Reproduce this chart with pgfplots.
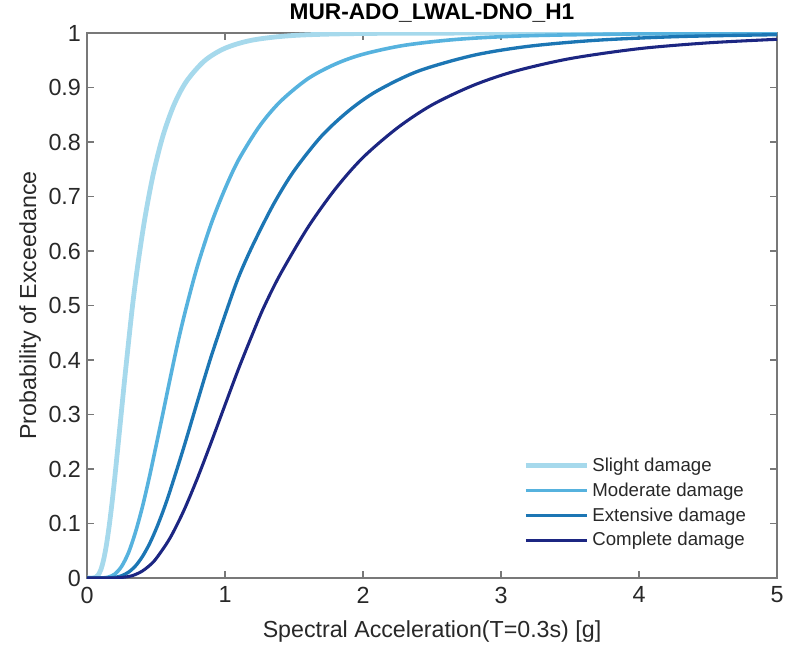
\documentclass[border=0pt]{standalone}
\usepackage{fontspec}
\setmainfont{Liberation Sans}
\usepackage{pgfplots}
\pgfplotsset{compat=1.18}
\definecolor{cSlight}{RGB}{166,217,236}
\definecolor{cModerate}{RGB}{86,178,222}
\definecolor{cExtensive}{RGB}{28,118,180}
\definecolor{cComplete}{RGB}{28,38,130}
\definecolor{axgray}{RGB}{120,120,120}
\definecolor{txtgray}{RGB}{40,40,40}
\begin{document}
\begin{tikzpicture}
\begin{axis}[
  scale only axis,
  width=517.5pt, height=408.75pt,
  xmin=0, xmax=5, ymin=0, ymax=1,
  xtick={0,1,2,3,4,5},
  xticklabels={0,1,2,3,4,5},
  ytick={0,0.1,0.2,0.3,0.4,0.5,0.6,0.7,0.8,0.9,1},
  yticklabels={0,0.1,0.2,0.3,0.4,0.5,0.6,0.7,0.8,0.9,1},
  /pgf/number format/assume math mode=true,
  tick align=inside,
  major tick length=5pt,
  axis line style={axgray, line width=0.9pt},
  every tick/.style={axgray, line width=0.9pt},
  tick label style={font=\fontsize{17.5}{20}\selectfont, text=txtgray},
  xticklabel style={yshift=-3pt},
  yticklabel style={xshift=-1pt},
  xlabel={Spectral Acceleration(T=0.3s) [g]},
  ylabel={Probability of Exceedance},
  title={\textbf{MUR-ADO\_LWAL-DNO\_H1}},
  every axis title shift=0pt,
  label style={font=\fontsize{17.4}{20}\selectfont, text=txtgray},
  xlabel style={at={(axis description cs:0.5,-0.099)}, anchor=center},
  ylabel style={at={(axis description cs:-0.0826,0.5)}, anchor=center, rotate=0},
  title style={at={(axis description cs:0.5,1.036)}, anchor=center, font=\fontsize{17}{20}\selectfont, text=black},
  legend style={at={(0.965,0.045)}, anchor=south east, draw=none, fill=none,
    font=\fontsize{14}{17}\selectfont, text=txtgray, row sep=3pt},
  legend cell align=left,
  legend image code/.code={\draw[#1] (0pt,0pt) -- (46pt,0pt);},
]
\addplot[cSlight, line width=3.6pt, smooth] coordinates {
(0,0) (0.04,0.0001) (0.06,0.001) (0.08,0.005) (0.10,0.015) (0.12,0.033)
(0.14,0.0595) (0.16,0.094) (0.18,0.135) (0.20,0.181) (0.22,0.231)
(0.25,0.307) (0.28,0.382) (0.33,0.5) (0.37,0.578) (0.42,0.661)
(0.48,0.741) (0.55,0.811) (0.63,0.868) (0.72,0.911) (0.85,0.9486)
(1.0,0.972) (1.2,0.987) (1.5,0.9955) (2.0,0.9991) (3.0,0.9999) (5.0,1.0)
};
\addlegendentry{Slight damage}
\addplot[cModerate, line width=2.7pt, smooth] coordinates {
(0,0) (0.10,0.0001) (0.15,0.0013) (0.20,0.0069) (0.25,0.021) (0.30,0.046)
(0.35,0.083) (0.40,0.129) (0.45,0.183) (0.50,0.242) (0.55,0.302)
(0.60,0.363) (0.66,0.434) (0.72,0.497) (0.80,0.572) (0.90,0.650)
(1.0,0.714) (1.1,0.768) (1.25,0.829) (1.4,0.874) (1.6,0.916)
(1.8,0.943) (2.0,0.961) (2.3,0.9774) (2.7,0.9887) (3.2,0.995)
(4.0,0.9984) (5.0,0.9996)
};
\addlegendentry{Moderate damage}
\addplot[cExtensive, line width=2.5pt, smooth] coordinates {
(0,0) (0.15,0.0001) (0.2,0.0011) (0.25,0.004) (0.3,0.0105) (0.35,0.0217)
(0.4,0.0387) (0.45,0.0612) (0.5,0.0893) (0.55,0.1218) (0.6,0.1584)
(0.7,0.2386) (0.8,0.3235) (0.9,0.4067) (1.02,0.497) (1.1,0.553)
(1.2,0.610) (1.35,0.685) (1.5,0.747) (1.7,0.811) (1.9,0.858)
(2.1,0.8934) (2.4,0.930) (2.8,0.959) (3.2,0.9756) (3.7,0.9868)
(4.3,0.9935) (5.0,0.9969)
};
\addlegendentry{Extensive damage}
\addplot[cComplete, line width=2.3pt, smooth] coordinates {
(0,0) (0.2,0.0002) (0.3,0.0026) (0.35,0.0063) (0.4,0.0126) (0.45,0.0222)
(0.5,0.0353) (0.6,0.0726) (0.7,0.1228) (0.8,0.183) (0.9,0.249)
(1.0,0.3174) (1.1,0.385) (1.2,0.448) (1.28,0.496) (1.4,0.557)
(1.6,0.643) (1.8,0.714) (2.0,0.7716) (2.25,0.826) (2.5,0.868)
(2.8,0.904) (3.1,0.9298) (3.5,0.953) (4.0,0.9712) (4.5,0.9819)
(5.0,0.9884)
};
\addlegendentry{Complete damage}
\end{axis}
\pgfresetboundingbox
\path ([shift={(-65.25pt,-52.5pt)}]current axis.south west) rectangle ([shift={(14.25pt,24.75pt)}]current axis.north east);
\end{tikzpicture}
\end{document}
